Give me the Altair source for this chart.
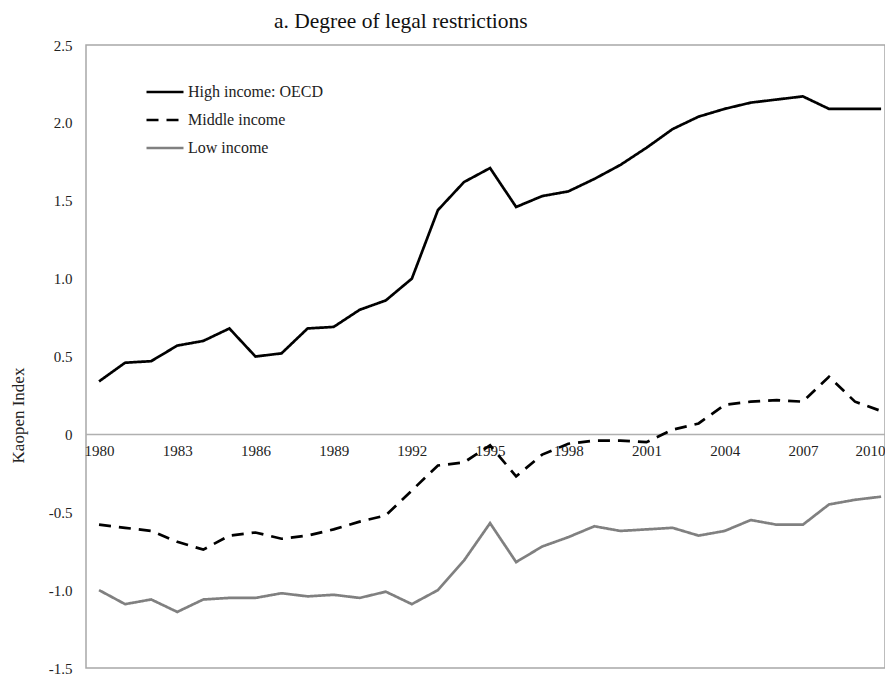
import altair as alt
import pandas as pd

years = list(range(1980, 2011))
high = [0.34, 0.46, 0.47, 0.57, 0.60, 0.68, 0.50, 0.52, 0.68, 0.69, 0.80, 0.86, 1.00,
        1.44, 1.62, 1.71, 1.46, 1.53, 1.56, 1.64, 1.73, 1.84, 1.96, 2.04, 2.09, 2.13,
        2.15, 2.17, 2.09, 2.09, 2.09]
middle = [-0.58, -0.60, -0.62, -0.69, -0.74, -0.65, -0.63, -0.67, -0.65, -0.61, -0.56,
          -0.52, -0.36, -0.20, -0.18, -0.07, -0.27, -0.13, -0.06, -0.04, -0.04, -0.05,
          0.03, 0.07, 0.19, 0.21, 0.22, 0.21, 0.37, 0.21, 0.15]
low = [-1.00, -1.09, -1.06, -1.14, -1.06, -1.05, -1.05, -1.02, -1.04, -1.03, -1.05,
       -1.01, -1.09, -1.00, -0.81, -0.57, -0.82, -0.72, -0.66, -0.59, -0.62, -0.61,
       -0.60, -0.65, -0.62, -0.55, -0.58, -0.58, -0.45, -0.42, -0.40]
series_names = ["High income: OECD", "Middle income", "Low income"]
x_ticks = list(range(1980, 2011, 3))
y_ticks = [-1.5, -1.0, -0.5, 0, 0.5, 1.0, 1.5, 2.0, 2.5]

rows = []
for name, vals in zip(series_names, [high, middle, low]):
    for yr, v in zip(years, vals):
        rows.append({"year": yr, "value": v, "series": name})
df = pd.DataFrame(rows)

FONT = "Liberation Serif"
W, H = 799, 623
zero_offset = -(H - H * 2.5 / 4.0)

lines = alt.Chart(df).mark_line(strokeWidth=2.7).encode(
    x=alt.X("year:Q",
            scale=alt.Scale(domain=[1979.5, 2010.15], nice=False, zero=False),
            axis=alt.Axis(values=x_ticks, format="d", title=None, ticks=False,
                          grid=False, domain=False, labelPadding=9,
                          labelFontSize=15, labelFont=FONT, labelColor="#222",
                          offset=zero_offset, labelFlush=5, labelFlushOffset=4)),
    y=alt.Y("value:Q",
            scale=alt.Scale(domain=[-1.5, 2.5], nice=False),
            axis=alt.Axis(values=y_ticks, title="Kaopen Index", ticks=False,
                          grid=False, domain=False, labelPadding=14,
                          labelFontSize=15, labelFont=FONT, labelColor="#222",
                          labelExpr="datum.value == 0 ? '0' : replace(format(datum.value, '.1f'), '\u2212', '-')",
                          titleFont=FONT, titleFontSize=17, titleFontWeight="normal",
                          titleColor="#222", titleX=-59, titleY=370)),
    color=alt.Color("series:N",
                    scale=alt.Scale(domain=series_names, range=["#000000", "#000000", "#808080"]),
                    legend=alt.Legend(title=None, orient="none", legendX=59, legendY=27,
                                      symbolType="stroke", symbolSize=1369,
                                      symbolStrokeWidth=2.7, rowPadding=-13.5,
                                      labelFont=FONT, labelFontSize=16, labelColor="#222",
                                      labelOffset=3)),
    strokeDash=alt.StrokeDash("series:N",
                              scale=alt.Scale(domain=series_names,
                                              range=[[1, 0], [12, 8], [1, 0]]),
                              legend=None),
)

zero_rule = alt.Chart(pd.DataFrame({"z": [0]})).mark_rule(
    color="#b0b0b0", strokeWidth=1.5).encode(y="z:Q")

chart = alt.layer(zero_rule, lines).properties(
    width=W, height=H,
    title=alt.TitleParams("a. Degree of legal restrictions", font=FONT, fontSize=21.5,
                          fontWeight="normal", color="#111", anchor="start",
                          dx=188, offset=6, frame="group"),
    autosize=alt.AutoSizeParams(type="none"),
    padding={"left": 78, "top": 37, "right": 0, "bottom": 7},
).configure_view(stroke="#a8a8a8", strokeWidth=1.5)

chart.save("out.html", embed_options={"renderer": "svg", "actions": False})
